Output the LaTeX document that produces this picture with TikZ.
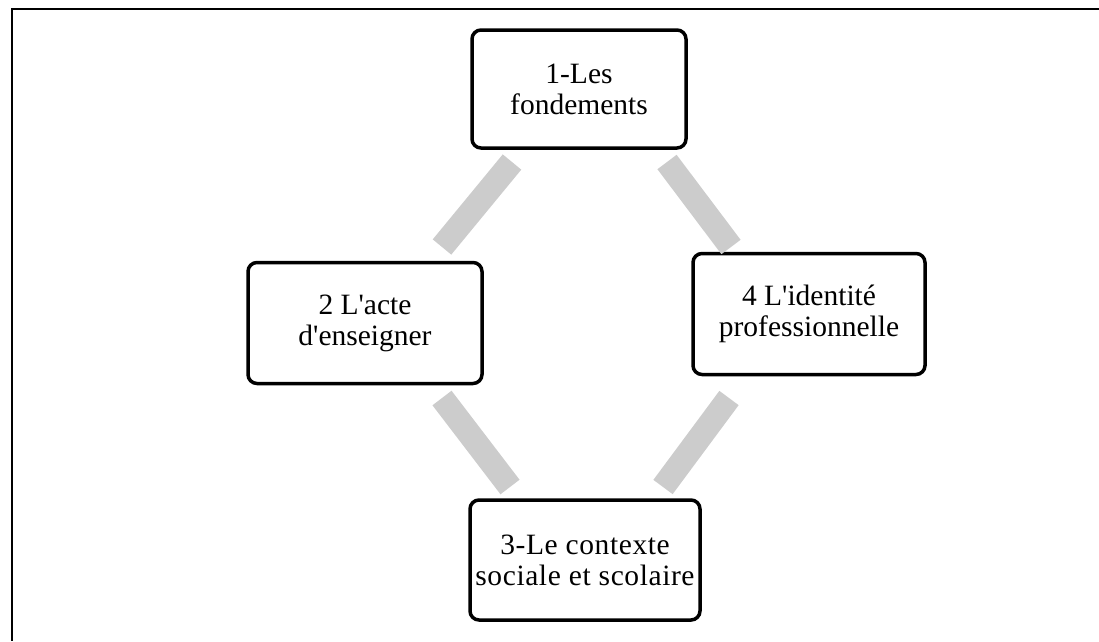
\documentclass[tikz,border=0pt]{standalone}
\usepackage{fontspec}
\setmainfont{Liberation Serif}[Ligatures=TeXOff]
\newfontfamily\airyfont{Liberation Serif}[Ligatures=TeXOff, LetterSpace=2]
\begin{document}
\begin{tikzpicture}[x=1pt,y=-1pt,
  stage/.style={draw=black, line width=3.5pt, rounded corners=9pt, fill=white,
    align=center, font=\fontsize{29.5}{31}\selectfont, inner sep=0pt},
  link/.style={draw=black!20, line width=24pt, line cap=butt}]
\useasboundingbox (0,0) rectangle (1099,641);
% outer frame: only top and left edges are drawn
\draw[line width=2pt] (1099,9) -- (12,9) -- (12,641);

% the four stages
\node[stage, minimum width=214pt, minimum height=118pt] (s1) at (579,89) {1-Les\\fondements};
\node[stage, minimum width=234pt, minimum height=121pt] (s2) at (365,323) {2 L'acte\\d'enseigner};
\node[stage, minimum width=232pt, minimum height=121pt] (s4) at (809,314) {4 L'identit\'e\\professionnelle};
\node[stage, minimum width=230pt, minimum height=120pt, font=\airyfont\fontsize{29.5}{31}\selectfont] (s3) at (585,560) {3-Le contexte\\sociale et scolaire};

% links between stages
\coordinate (a1) at (512,162);
\coordinate (a2) at (442,247);
\coordinate (b1) at (667,162);
\coordinate (b2) at (731,247);
\coordinate (c1) at (442,398);
\coordinate (c2) at (510,487);
\coordinate (d1) at (729,398);
\coordinate (d2) at (663,487);
\draw[link] (a1) -- (a2);
\draw[link] (b1) -- (b2);
\draw[link] (c1) -- (c2);
\draw[link] (d1) -- (d2);
\end{tikzpicture}
\end{document}
